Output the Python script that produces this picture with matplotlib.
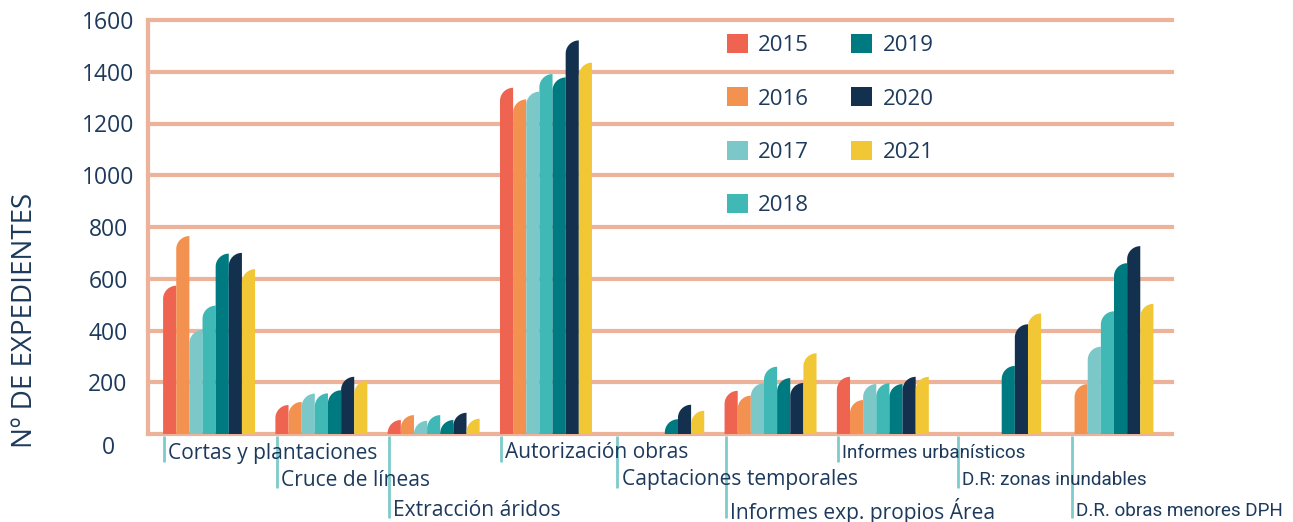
import numpy as np
import matplotlib.pyplot as plt
from matplotlib.patches import Polygon, Patch
from matplotlib import transforms

plt.rcParams['font.family'] = ['Open Sans', 'DejaVu Sans']

categorias = ['Cortas y plantaciones', 'Cruce de líneas', 'Extracción áridos',
              'Autorización obras', 'Captaciones temporales',
              'Informes exp. propios Área', 'Informes urbanísticos',
              'D.R: zonas inundables', 'D.R. obras menores DPH']
anios = ['2015', '2016', '2017', '2018', '2019', '2020', '2021']

v2015 = [573, 112, 54, 1338, 0, 167, 221, 0, 0]
v2016 = [765, 124, 73, 1293, 0, 148, 131, 0, 193]
v2017 = [402, 156, 51, 1323, 0, 196, 193, 0, 337]
v2018 = [496, 157, 73, 1391, 0, 260, 196, 0, 474]
v2019 = [697, 169, 54, 1378, 57, 216, 193, 263, 660]
v2020 = [700, 221, 82, 1521, 113, 197, 221, 424, 726]
v2021 = [637, 206, 59, 1435, 90, 312, 221, 466, 503]
series = [v2015, v2016, v2017, v2018, v2019, v2020, v2021]

colores = ['#EF6351', '#F39151', '#7CC8C9', '#40B9B6', '#007A81', '#14304F', '#F2C736']
salmon = '#ECB39A'
navy = '#1D3A5C'
turquesa = '#7ECBCB'

W, H = 1293, 522
fig = plt.figure(figsize=(W / 100, H / 100), dpi=100)
ax = fig.add_axes([148 / W, 88 / H, 1024 / W, 414 / H])
xmin, xmax = -0.544, 8.575
ax.set_xlim(xmin, xmax)
ax.set_ylim(0, 1600)

w = 0.117
# vertical radius of the rounded corner, in data units, so the corner looks circular
px_x = 1024 / (xmax - xmin)
px_y = 414 / 1600
r_y = w * px_x / px_y

t = np.linspace(np.pi, np.pi / 2, 30)
for j, vals in enumerate(series):
    for i, h in enumerate(vals):
        if h <= 0:
            continue
        x0 = i - 3.5 * w + j * w
        x1 = x0 + w
        r = min(r_y, h)
        arc = np.column_stack([x1 + w * np.cos(t), h - r + r * np.sin(t)])
        pts = np.vstack([[x0, 0], arc, [x1, 0]])
        ax.add_patch(Polygon(pts, closed=True, facecolor=colores[j],
                             edgecolor='none', zorder=3))

# grid + frame
ax.set_yticks(np.arange(0, 1601, 200))
ax.set_xticks([])
ax.grid(axis='y', color=salmon, lw=3.0)
for gl in ax.get_ygridlines():
    gl.set_clip_on(False)
ax.set_axisbelow(True)
for s in ['top', 'right', 'bottom']:
    ax.spines[s].set_visible(False)
ax.spines['left'].set_color(salmon)
ax.spines['left'].set_linewidth(3.0)
ax.tick_params(axis='y', length=0, pad=28.8, labelsize=16.5, labelcolor=navy)
for lbl in ax.get_yticklabels():
    lbl.set_ha('center')
zero = ax.get_yticklabels()[0]
zero.set_transform(zero.get_transform() + transforms.ScaledTranslation(0, -8 / 72, fig.dpi_scale_trans))

fig.text(25 / W, 1 - 320 / H, 'Nº DE EXPEDIENTES', rotation=90, ha='center', va='center',
         fontsize=20, color=navy)

# category labels on three staggered rows
trans = transforms.blended_transform_factory(ax.transData, fig.transFigure)
tick_bottom = [462, 488, 518]
label_y = [453, 480, 511]
nudge_px = [0, 0, 0, 0, 4, 0, 0, 8, 9]
for i, cat in enumerate(categorias):
    lvl = i % 3
    xt = i - 3.5 * w + 0.01 + nudge_px[i] / px_x
    ax.plot([xt, xt], [1 - 436 / H, 1 - tick_bottom[lvl] / H], transform=trans,
            color=turquesa, lw=2, clip_on=False, solid_capstyle='butt')
    if i >= 6:
        fam, fs = ['Roboto', 'DejaVu Sans'], 13.6
    else:
        fam, fs = ['Open Sans', 'DejaVu Sans'], 15.1
    ax.text(xt, 1 - label_y[lvl] / H, cat,
            transform=trans + transforms.ScaledTranslation(3 / 72, 0, fig.dpi_scale_trans),
            ha='left', va='center', fontsize=fs, color=navy, family=fam)

handles = [Patch(facecolor=c, edgecolor='none') for c in colores]
leg = ax.legend(handles, anios, ncol=2, frameon=False, loc='upper left',
                bbox_to_anchor=(727 / W, 1 - 34 / H), bbox_transform=fig.transFigure,
                fontsize=16, handlelength=0.95, handleheight=0.95, handletextpad=0.45,
                columnspacing=1.9, labelspacing=1.4, borderpad=0, borderaxespad=0)
for txt in leg.get_texts():
    txt.set_color(navy)

fig.savefig('out.png', dpi=100)
